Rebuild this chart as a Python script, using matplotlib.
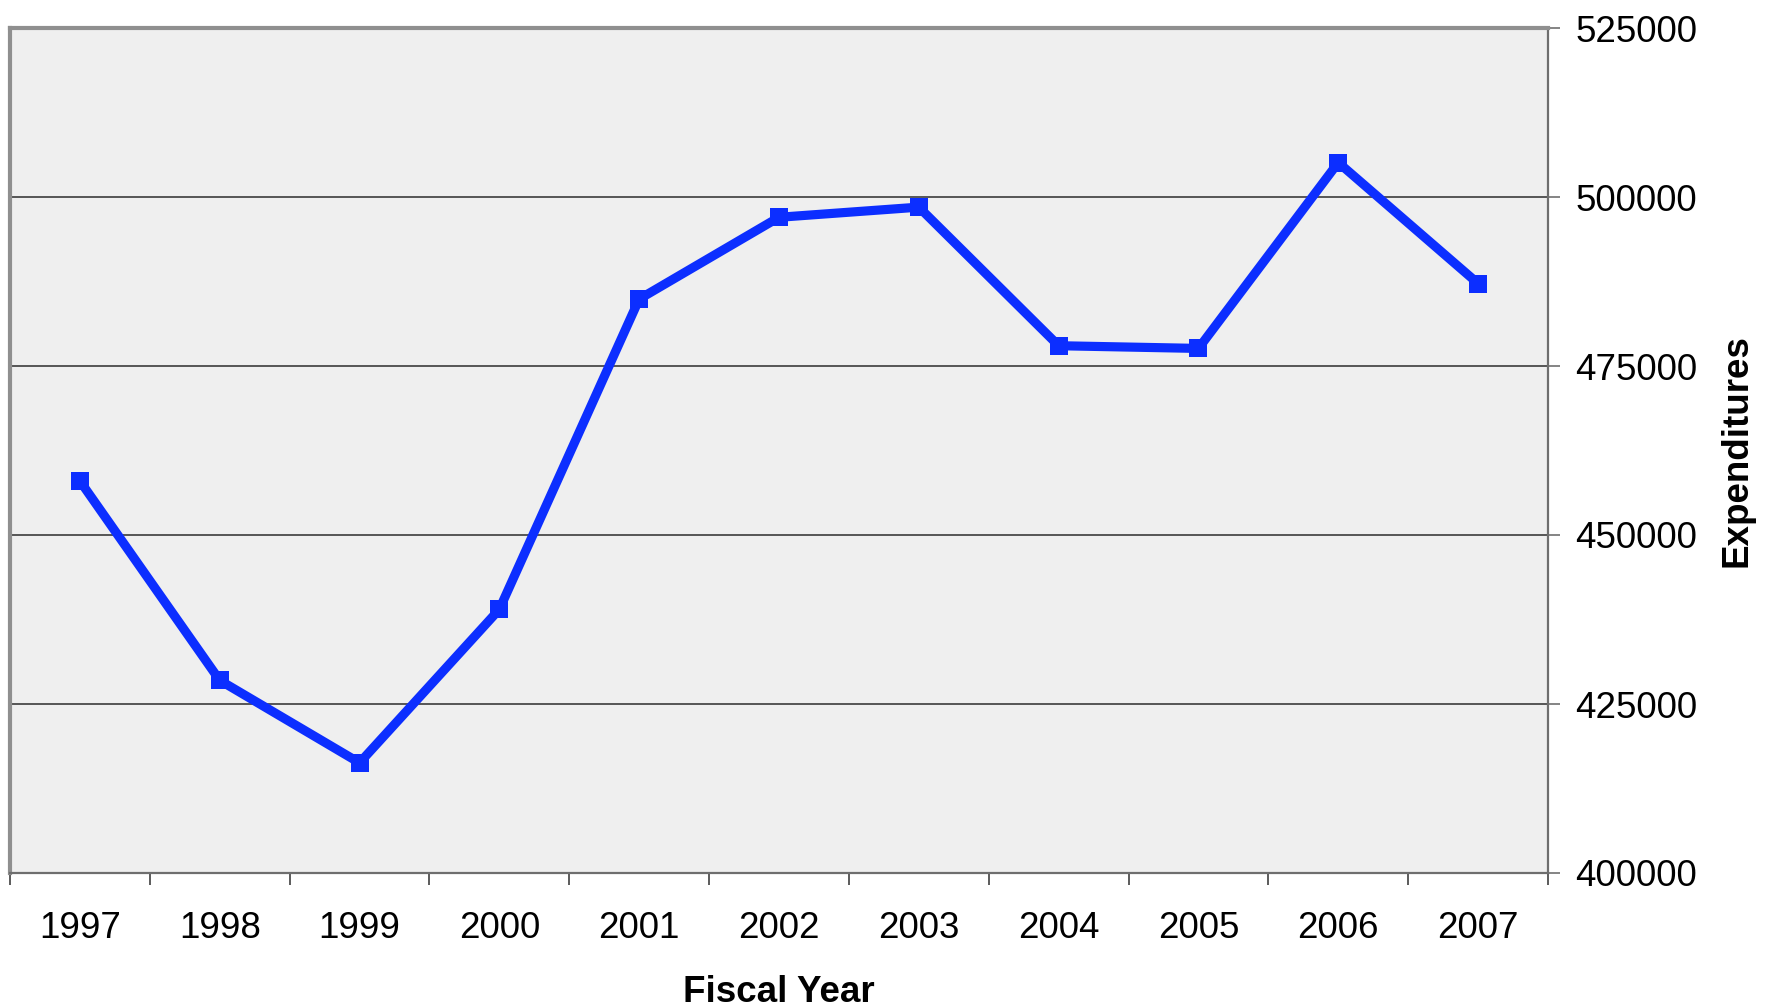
import matplotlib
matplotlib.use("Agg")
import matplotlib.pyplot as plt
from matplotlib.ticker import FixedLocator, FixedFormatter

plt.rcParams['font.family'] = ['Liberation Sans', 'DejaVu Sans']

years = ["1997", "1998", "1999", "2000", "2001", "2002",
         "2003", "2004", "2005", "2006", "2007"]
expenditures = [458000, 428500, 416300, 439000, 484900, 497000,
                498500, 478000, 477600, 505100, 487200]
y_ticks = [400000, 425000, 450000, 475000, 500000, 525000]

fig = plt.figure(figsize=(17.74, 10.08), dpi=100)
fig.patch.set_facecolor("white")
ax = fig.add_axes([10 / 1774, 1 - 873 / 1008, 1538 / 1774, 845 / 1008])
ax.set_facecolor("#EFEFEF")

x = list(range(len(years)))
ax.plot(x, expenditures, color="#0C2EFF", linewidth=6.6, marker="s",
        markersize=12.5, markeredgewidth=0, zorder=3, solid_joinstyle="miter")

ax.set_xlim(-0.5, len(years) - 0.5)
ax.set_ylim(y_ticks[0], y_ticks[-1])

# value axis on the right
ax.yaxis.tick_right()
ax.yaxis.set_label_position("right")
ax.set_yticks(y_ticks)
ax.set_yticklabels([str(v) for v in y_ticks])
ax.tick_params(axis="y", which="major", length=8.6, width=1.2,
               color="#707070", pad=11, labelsize=26.5, labelcolor="black")
ax.yaxis.grid(True, color="#3C3C3C", linewidth=1.2, zorder=1)
ax.set_axisbelow(True)

# category axis: labels centred, ticks between categories
ax.xaxis.set_major_locator(FixedLocator(x))
ax.xaxis.set_major_formatter(FixedFormatter(years))
ax.xaxis.set_minor_locator(FixedLocator([i - 0.5 for i in range(len(years) + 1)]))
ax.tick_params(axis="x", which="major", length=0, pad=27.5, labelsize=26.5,
               labelcolor="black")
ax.tick_params(axis="x", which="minor", length=8.6, width=1.2, color="#404040")

for side, col, lw in [("left", "#8F8F8F", 3.0), ("top", "#8F8F8F", 3.0),
                      ("right", "#6E6E6E", 1.6), ("bottom", "#6E6E6E", 1.6)]:
    ax.spines[side].set_color(col)
    ax.spines[side].set_linewidth(lw)

ax.set_xlabel("Fiscal Year", fontsize=26.5, fontweight="bold", labelpad=21)
ax.set_ylabel("Expenditures", fontsize=26.5, fontweight="bold", labelpad=16)

fig.savefig("out.png", dpi=100)
